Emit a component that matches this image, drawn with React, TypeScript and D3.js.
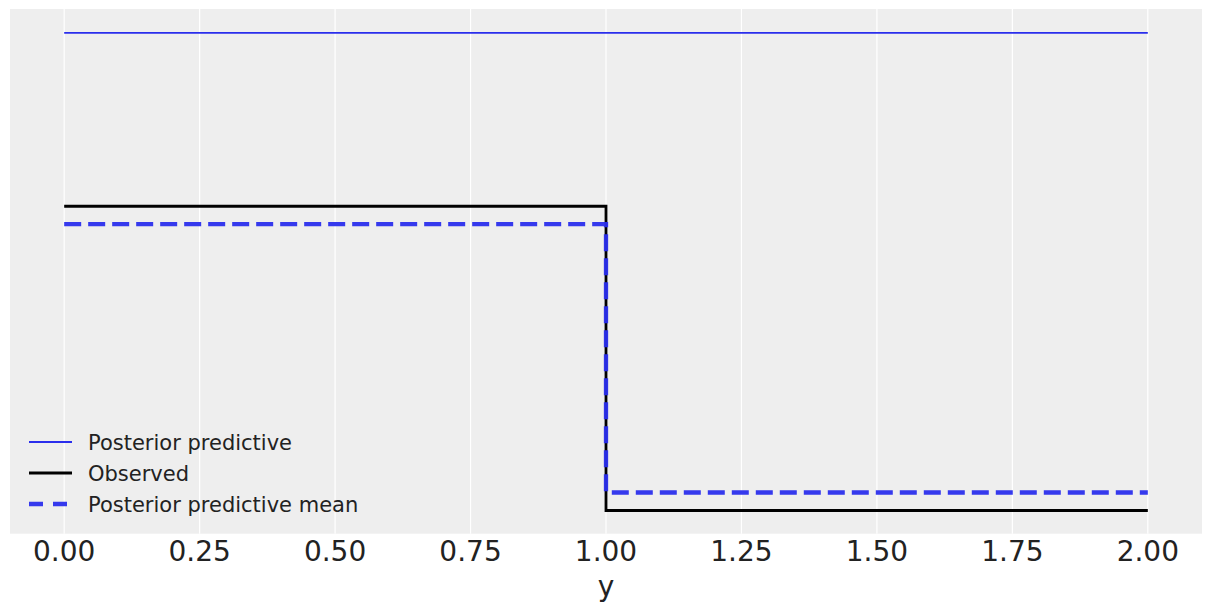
import React from "react";
import * as d3 from "d3";

const ppX = [0, 1, 2];
const ppY = [0.7566, 0.7566, 0.7566];
const obsX = [0, 1, 2];
const obsY = [0.6197, 0.3795, 0.3795];
const meanX = [0, 1, 2];
const meanY = [0.6056, 0.3937, 0.3937];
const xTicks = [0, 0.25, 0.5, 0.75, 1.0, 1.25, 1.5, 1.75, 2.0];
const legendLabels = ["Posterior predictive", "Observed", "Posterior predictive mean"];

const W = 1211;
const H = 611;
const plot = { left: 10, right: 1202, top: 9, bottom: 533.7 };

export default function App() {
  const x = d3.scaleLinear().domain([-0.1, 2.1]).range([plot.left, plot.right]);
  const yMin = 0.38, yMax = 0.7566;
  const pad = (yMax - yMin) * 0.05;
  const y = d3.scaleLinear().domain([yMin - pad, yMax + pad]).range([plot.bottom, plot.top]);

  const step = d3
    .line<[number, number]>()
    .x((d) => x(d[0]))
    .y((d) => y(d[1]))
    .curve(d3.curveStepAfter);

  const zip = (a: number[], b: number[]) => a.map((v, i) => [v, b[i]] as [number, number]);

  const fontFamily = "'DejaVu Sans', sans-serif";
  const blue = "#2a2eec";
  const legendStyles = [
    { stroke: blue, width: 1.8, dash: undefined as string | undefined, opacity: 1 },
    { stroke: "#000", width: 2.8, dash: undefined, opacity: 1 },
    { stroke: blue, width: 4.3, dash: "14 10", opacity: 0.95 },
  ];

  return (
    <svg width={W} height={H} style={{ position: "absolute", left: 0, top: 0, background: "#fff" }}>
      <rect x={plot.left} y={plot.top} width={plot.right - plot.left} height={plot.bottom - plot.top} fill="#eeeeee" />
      {xTicks.map((t) => (
        <line key={t} x1={x(t)} x2={x(t)} y1={plot.top} y2={plot.bottom} stroke="#fff" strokeWidth={1.2} />
      ))}
      <path d={step(zip(ppX, ppY)) || ""} fill="none" stroke={blue} strokeWidth={1.8} />
      <path d={step(zip(obsX, obsY)) || ""} fill="none" stroke="#000" strokeWidth={2.8} />
      <path
        d={step(zip(meanX, meanY)) || ""}
        fill="none"
        stroke={blue}
        strokeOpacity={0.95}
        strokeWidth={4.3}
        strokeDasharray="17 7"
      />
      {xTicks.map((t) => (
        <text
          key={"l" + t}
          x={x(t)}
          y={561}
          textAnchor="middle"
          fontFamily={fontFamily}
          fontSize={28}
          fill="#222222"
        >
          {t.toFixed(2)}
        </text>
      ))}
      <text x={(plot.left + plot.right) / 2} y={596} textAnchor="middle" fontFamily={fontFamily} fontSize={28} fill="#222222">
        y
      </text>
      {legendLabels.map((lab, i) => {
        const cy = 442 + i * 31;
        const s = legendStyles[i];
        return (
          <g key={lab}>
            <line
              x1={29}
              x2={72}
              y1={cy}
              y2={cy}
              stroke={s.stroke}
              strokeWidth={s.width}
              strokeDasharray={s.dash}
              strokeOpacity={s.opacity}
            />
            <text x={88} y={cy + 7.5} fontFamily={fontFamily} fontSize={21} fill="#222222">
              {lab}
            </text>
          </g>
        );
      })}
    </svg>
  );
}
